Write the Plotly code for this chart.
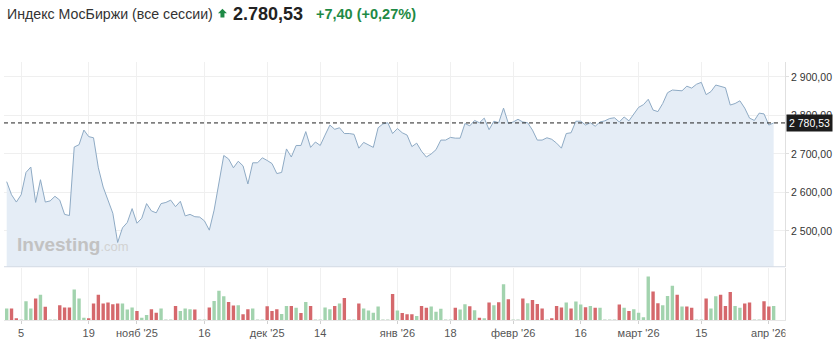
import plotly.graph_objects as go

# ---------------- data ----------------
price = [
    2628, 2594, 2575, 2594, 2652, 2666, 2574, 2633, 2575, 2578,
    2590, 2580, 2543, 2540, 2718, 2724, 2762, 2745, 2742, 2664,
    2614, 2580, 2546, 2470, 2508, 2522, 2558, 2520, 2533, 2571,
    2552, 2547, 2571, 2574, 2580, 2563, 2577, 2539, 2543, 2537,
    2536, 2526, 2502, 2554, 2622, 2696, 2687, 2664, 2681, 2669,
    2622, 2677, 2677, 2690,
    2683, 2675, 2649, 2652, 2713, 2692, 2722, 2722, 2758, 2717,
    2731, 2722, 2749, 2775, 2764, 2768, 2753, 2753, 2751, 2715,
    2730, 2724, 2717, 2768, 2778, 2781, 2753, 2766, 2755, 2749,
    2719, 2728, 2707, 2692, 2700, 2711, 2736, 2736, 2743, 2741,
    2741, 2779, 2773, 2787, 2781, 2793, 2763, 2785, 2781, 2819,
    2779, 2783, 2790, 2783,
    2781, 2762, 2736, 2736, 2742, 2738, 2728, 2715, 2753, 2755,
    2785, 2785, 2775, 2781, 2772, 2783, 2786, 2792, 2794, 2783,
    2796, 2786, 2802, 2821, 2828, 2842, 2814, 2810, 2831, 2859,
    2866, 2865, 2864, 2876, 2871, 2881, 2886, 2854, 2862, 2879,
    2875, 2872, 2827, 2831, 2838, 2819, 2793, 2787, 2806, 2804,
    2775, 2780.53,
]

volume = [
    11.7, 11.7, 1.7, 0.7, 19, 11.7, 21.7, 25.7, 13.3, 0.5,
    0.5, 15, 12.7, 12.7, 31, 21.7, 2.3, 1, 16.7, 25.7,
    16.7, 17.7, 16, 16.7, 16.7, 10.7, 12.7, 9, 2.3, 5,
    11, 7.3, 11.7, 0.5, 0.5, 14.3, 9, 11.7, 11, 10.7,
    0.5, 0.5, 12.7, 19.3, 29.7, 24, 18.3, 14.7, 15, 5.7,
    11, 11.7, 0.5, 0.5, 14, 9, 11, 6, 14.3, 14.3,
    12.3, 7, 18.3, 14.3, 0.5, 0.5, 12.7, 11, 14.3, 16.7,
    22.3, 0.5, 0.5, 16.7, 11.7, 9.7, 7.3, 13.7, 0.5, 0.5,
    26.3, 9.7, 7, 5.7, 5.7, 4, 14.3, 12.3, 13.7, 8.3,
    11.3, 0.5, 0.5, 12.3, 10.7, 16, 14, 10, 2.3, 1.5,
    17.7, 15, 18, 36.3, 21, 0.5, 0.5, 21.7, 17, 20.3,
    16.3, 11.7, 0.5, 1.5, 14.3, 12.7, 17.7, 11.7, 18.7, 15.7,
    13, 14.3, 12.3, 12.3, 0.5, 0.5, 0.5, 15.7, 12.3, 9,
    11, 7.3, 2.7, 44, 29, 17, 15, 24.3, 34.7, 25.7,
    13.7, 13.7, 12.3, 0.5, 0.5, 21.7, 11.7, 24, 25.7, 14.3,
    28.3, 14.3, 12.3, 16.7, 17.7, 0.5, 0.5, 19, 13.7, 14.3,
]

# g = up session, r = down session, n = weekend / holiday session
direction_codes = (
    "grrnggrgrn"
    "nrrrgggrrr"
    "rrrrgggrgg"
    "rrgnnrgggr"
    "nnrgggrrgr"
    "rgnnrrrggr"
    "grgrnnggrg"
    "rnnrggggnn"
    "rgrrrgrrgg"
    "gnnrggrgrg"
    "rgrgrnnrgr"
    "rrnrrrgrgg"
    "rgrgnnnrgr"
    "ggggrrgggr"
    "grrnnrggrr"
    "rggrrnnrrg"
)
direction = list(direction_codes)

tick_idx = [3, 17, 27, 41, 54, 65, 81, 92, 105, 119, 131, 144, 158]
tick_text = ["5", "19", "нояб '25", "16", "дек '25", "14", "янв '26", "18",
             "февр '26", "16", "март '26", "15", "апр '26"]
y_ticks = [2500, 2600, 2700, 2800, 2900]
y_tick_text = ["2 500,00", "2 600,00", "2 700,00", "2 800,00", "2 900,00"]

last_price = 2780.53
last_label = "2 780,53"
title_text = "Индекс МосБиржи (все сессии)"
price_text = "2.780,53"
change_text = "+7,40 (+0,27%)"

# ---------------- layout geometry ----------------
W, H = 836, 343
ML, MR, MT, MB = 4, 49, 62, 17
PW, PH = W - ML - MR, H - MT - MB


def px(xp):
    return (xp - ML) / PW


def py(yp):
    return (H - MB - yp) / PH


idx = list(range(len(price)))
color_map = {"g": "#a2d3ae", "r": "#d5686c", "n": "#c9dccd"}
bar_colors = [color_map[d] for d in direction]

fig = go.Figure()
fig.add_trace(go.Scatter(
    x=idx, y=price, mode="lines",
    line=dict(color="#8eaac4", width=1),
    fill="tozeroy", fillcolor="#e5edf6",
    xaxis="x", yaxis="y", hoverinfo="skip", showlegend=False,
))
fig.add_trace(go.Bar(
    x=idx, y=volume, marker=dict(color=bar_colors, line=dict(width=0)),
    xaxis="x", yaxis="y2", hoverinfo="skip", showlegend=False,
))

font_family = "Liberation Sans, Arial, sans-serif"

fig.update_layout(
    width=W, height=H,
    margin=dict(l=ML, r=MR, t=MT, b=MB, pad=0),
    paper_bgcolor="white", plot_bgcolor="white",
    font=dict(family=font_family, color="#333"),
    bargap=0.3,
    showlegend=False,
    xaxis=dict(
        range=[-0.56, 161.35], anchor="y2",
        tickmode="array", tickvals=tick_idx, ticktext=tick_text,
        tickfont=dict(size=11, color="#555"),
        showgrid=True, gridcolor="#f0f0f0", gridwidth=1,
        ticks="outside", ticklen=3, tickcolor="#d0d0d0",
        showline=True, linecolor="#e6e6e6", linewidth=1,
        zeroline=False,
    ),
    yaxis=dict(
        domain=[py(271.5), 1], range=[2407, 2938.8], side="right", anchor="x",
        tickmode="array", tickvals=y_ticks, ticktext=y_tick_text,
        tickfont=dict(size=10.5, color="#333"),
        showgrid=True, gridcolor="#efefef", gridwidth=1,
        ticks="outside", ticklen=3, tickcolor="#e0e0e0",
        showline=True, linecolor="#e0e0e0", linewidth=1,
        zeroline=False,
    ),
    yaxis2=dict(
        domain=[0, py(273)], range=[0, 52.5], side="right", anchor="x",
        showticklabels=False, showgrid=False, zeroline=False,
        showline=True, linecolor="#e0e0e0", linewidth=1, ticks="",
    ),
)

shapes = [
    # bottom edge of price panel
    dict(type="line", xref="paper", yref="paper", x0=0, x1=1,
         y0=py(271.5), y1=py(271.5), line=dict(color="#d3dae3", width=1)),
    # dashed current price line
    dict(type="line", xref="paper", yref="y", x0=0, x1=1,
         y0=last_price, y1=last_price,
         line=dict(color="#222", width=1, dash="4px,3px")),
    # up arrow in header
    dict(type="path", xref="paper", yref="paper",
         path=(f"M {px(223)},{py(7.5)} L {px(227.5)},{py(12)} L {px(225)},{py(12)} "
               f"L {px(225)},{py(16.5)} L {px(221)},{py(16.5)} L {px(221)},{py(12)} "
               f"L {px(218.5)},{py(12)} Z"),
         fillcolor="#1e8a45", line=dict(width=0)),
    # clip area right of the plot under the axis (last tick label is cut)
    dict(type="rect", xref="paper", yref="paper", x0=px(787.5), x1=px(836),
         y0=py(343), y1=py(327.5), fillcolor="white", line=dict(width=0),
         layer="above"),
]
fig.update_layout(shapes=shapes)

annotations = [
    dict(text=title_text, xref="paper", yref="paper", x=px(5), y=py(13),
         xanchor="left", yanchor="middle", showarrow=False,
         font=dict(size=14.2, color="#333", family=font_family)),
    dict(text=f"<b>{price_text}</b>", xref="paper", yref="paper", x=px(232), y=py(13),
         xanchor="left", yanchor="middle", showarrow=False,
         font=dict(size=18, color="#222", family=font_family)),
    dict(text=f"<b>{change_text}</b>", xref="paper", yref="paper", x=px(315), y=py(13),
         xanchor="left", yanchor="middle", showarrow=False,
         font=dict(size=14.5, color="#1e8a45", family=font_family)),
    dict(text=last_label, xref="paper", yref="y", x=1, y=last_price,
         xanchor="left", yanchor="middle", showarrow=False, xshift=1,
         bgcolor="#1c1c1c", borderpad=2,
         font=dict(size=10.5, color="white", family=font_family)),
    dict(text="<b>Investing</b><span style='font-size:13px;color:#d2d2d2'>.com</span>",
         xref="paper", yref="paper", x=px(15), y=py(249),
         xanchor="left", yanchor="middle", showarrow=False,
         font=dict(size=19, color="#c2c2c2", family=font_family)),
]
fig.update_layout(annotations=annotations)

fig.write_html("out.html")
